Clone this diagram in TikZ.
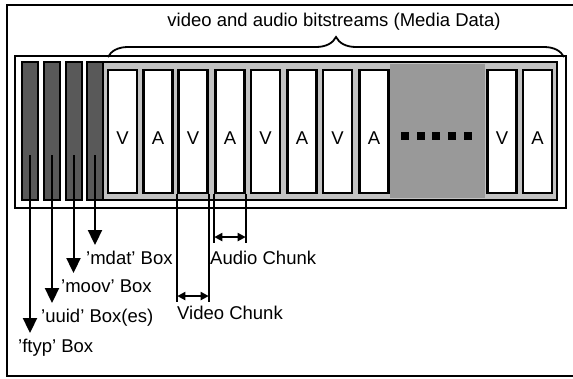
\documentclass[tikz,border=0pt]{standalone}
\usepackage{fontspec}
\setmainfont{Liberation Sans}
\usetikzlibrary{arrows.meta,positioning,decorations.pathreplacing}

\begin{document}
\begin{tikzpicture}[x=1pt, y=-1pt, font=\fontsize{18.5}{21}\selectfont,
  cab/.style={draw, line width=2pt, fill=black!65, inner sep=0pt,
              minimum width=16pt, minimum height=138pt},
  bloco/.style={draw, line width=2.4pt, fill=white, inner sep=0pt,
                minimum width=29pt, minimum height=123pt},
  rot/.style={anchor=west, inner sep=1pt, text height=13.5pt, text depth=4pt},
  seta/.style={-{Triangle[width=14pt,length=15pt]}, line width=2pt},
  dupla/.style={{Triangle[width=8pt,length=8pt]}-{Triangle[width=8pt,length=8pt]},
                line width=2pt}]
\clip (0,0) rectangle (573,378);
% frames
\draw[line width=1.5pt] (7,5) rectangle (590,376);
\draw[line width=1.5pt] (15,56) rectangle (566,208);
\draw[line width=2.4pt, fill=black!24] (87,62) rectangle (557,200);
\fill[black!40] (390,64) rectangle (485,198);
% box headers
\foreach \i/\x in {1/30, 2/52, 3/73.5, 4/95}
  \node[cab] (b\i) at (\x,131) {};
% chunks
\foreach \n/\x/\t in {v1/122.5/V, a1/158/A, v2/193/V, a2/230/A, v3/265.5/V,
                      a3/302/A, v4/337.5/V, a4/374/A, v5/502/V, a5/537.5/A}
  \node[bloco, label={[yshift=-7pt]center:\t}] (\n) at (\x,131.5) {};
\foreach \x in {405, 420.5, 436, 452, 468}
  \fill (\x-4,132) rectangle (\x+4,140);
% media data
\draw[line width=1.8pt, decorate, decoration={brace, amplitude=20pt}]
  (108,57) -- (564,57);
\node (titulo) at (334,22) {video and audio bitstreams (Media Data)};
% labels
\node[rot] (lftyp) at (17,348) {'ftyp' Box};
\node[rot] (luuid) at (40,318) {'uuid' Box(es)};
\node[rot] (lmoov) at (60,288) {'moov' Box};
\node[rot] (lmdat) at (85,260) {'mdat' Box};
\node[rot] (lvid) at (176,315) {Video Chunk};
\node[rot] (laud) at (209,260) {Audio Chunk};
\draw[seta, shorten >=5pt] (b1.center |- 0,155) -- (b1 |- lftyp.north);
\draw[seta, shorten >=5pt] (b2.center |- 0,155) -- (b2 |- luuid.north);
\draw[seta, shorten >=5pt] (b3.center |- 0,155) -- (b3 |- lmoov.north);
\draw[seta, shorten >=5pt] (b4.center |- 0,155) -- (b4 |- lmdat.north);
% chunk widths
\draw[line width=2pt, shorten >=3pt] (v2.south west) -- (v2.south west |- lvid.north);
\draw[line width=2pt, shorten >=3pt] (v2.south east) -- (v2.south east |- lvid.north);
\draw[dupla] ([yshift=9pt]v2.south west |- lvid.north) -- ([yshift=9pt]v2.south east |- lvid.north);
\draw[line width=2pt, shorten >=7pt] (a2.south west) -- (a2.south west |- laud.north);
\draw[line width=2pt, shorten >=7pt] (a2.south east) -- (a2.south east |- laud.north);
\draw[dupla] ([yshift=13pt]a2.south west |- laud.north) -- ([yshift=13pt]a2.south east |- laud.north);
\end{tikzpicture}
\end{document}
